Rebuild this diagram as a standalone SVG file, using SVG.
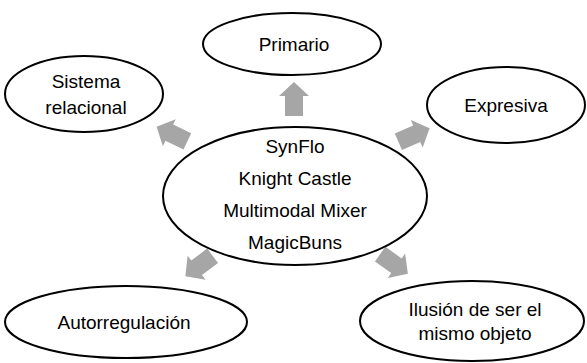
<svg xmlns="http://www.w3.org/2000/svg" xmlns:xlink="http://www.w3.org/1999/xlink" width="587" height="363" viewBox="0 0 587 363">
  <style>
    .node ellipse { fill: #ffffff; stroke: #000000; stroke-width: 2; }
    .node text { font-family: "Liberation Sans", Arial, sans-serif; font-size: 19px; fill: #000000; text-anchor: middle; }
    .arrow { fill: #A6A6A6; stroke: none; }
  </style>
  <defs>
    <polygon id="blockArrow" points="-17,-9 3,-9 3,-15 17,0 3,15 3,9 -17,9"/>
  </defs>
  <rect width="587" height="363" fill="#ffffff"/>
  <g id="connectors">
    <use xlink:href="#blockArrow" class="arrow" transform="translate(294,99) rotate(-90)"/>
    <use xlink:href="#blockArrow" class="arrow" transform="translate(172,134) rotate(-154.6)"/>
    <use xlink:href="#blockArrow" class="arrow" transform="translate(414,135) rotate(-23.3)"/>
    <use xlink:href="#blockArrow" class="arrow" transform="translate(199,266) rotate(143.3)"/>
    <use xlink:href="#blockArrow" class="arrow" transform="translate(394,264) rotate(35.4)"/>
  </g>
  <g id="node-center" class="node">
    <ellipse cx="295" cy="196" rx="132" ry="69"/>
    <text x="295" y="153">SynFlo</text>
    <text x="295" y="185">Knight Castle</text>
    <text x="295" y="217">Multimodal Mixer</text>
    <text x="295" y="249">MagicBuns</text>
  </g>
  <g id="node-primario" class="node">
    <ellipse cx="292" cy="44" rx="89" ry="31"/>
    <text x="294" y="51">Primario</text>
  </g>
  <g id="node-sistema" class="node">
    <ellipse cx="84" cy="94" rx="79" ry="38"/>
    <text x="86" y="88">Sistema</text>
    <text x="86" y="114">relacional</text>
  </g>
  <g id="node-expresiva" class="node">
    <ellipse cx="506" cy="105" rx="79" ry="38"/>
    <text x="506" y="112">Expresiva</text>
  </g>
  <g id="node-autorregulacion" class="node">
    <ellipse cx="126" cy="322" rx="121" ry="36"/>
    <text x="124" y="329">Autorregulación</text>
  </g>
  <g id="node-ilusion" class="node">
    <ellipse cx="472" cy="321" rx="112" ry="40"/>
    <text x="475" y="316">Ilusión de ser el</text>
    <text x="475" y="340">mismo objeto</text>
  </g>
</svg>
